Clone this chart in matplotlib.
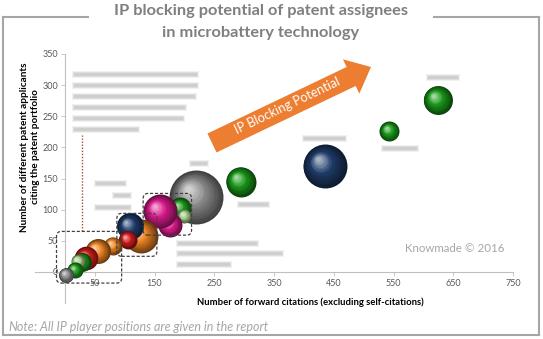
import numpy as np
import matplotlib
matplotlib.use("Agg")
import matplotlib.pyplot as plt
from matplotlib.colors import to_rgb
from matplotlib.transforms import offset_copy, IdentityTransform
from matplotlib.patches import FancyArrow, FancyBboxPatch, Rectangle
from matplotlib.lines import Line2D

plt.rcParams['font.family'] = ['Lato', 'DejaVu Sans']

## Bubble data (drawing order: back to front)
citations = [220, 435, 294, 624, 543, 193, 200, 176, 159, 127, 109, 105, 68, 80, 55, 36, 28, 22, 17, 2]
applicants = [120, 170, 145, 276, 226, 102, 90, 75, 97, 57, 73, 52, 38, 42, 33, 22, 16, 17, 3, -5]
portfolio = [729, 484, 225, 210, 100, 121, 49, 144, 289, 289, 182, 81, 36, 81, 156, 140, 90, 49, 64, 56]
bubble_colors = ['gray', 'navy', 'green', 'green', 'green', 'green', 'lightgreen', 'magenta', 'magenta',
                 'orange', 'navy', 'red', 'navy', 'orange', 'orange', 'red', 'green', 'lightgreen',
                 'green', 'gray']

x_ticks = [50, 150, 250, 350, 450, 550, 650, 750]
y_ticks = [0, 50, 100, 150, 200, 250, 300, 350]

palette = {'gray': '#8c8c8c', 'navy': '#1f3d6b', 'green': '#1b9a1b', 'lightgreen': '#a9d08e',
           'magenta': '#dc1a8c', 'orange': '#ee8424', 'red': '#d81c1c'}

W, H = 543, 339
fig = plt.figure(figsize=(W / 100, H / 100), dpi=100)
ax = fig.add_axes([35 / W, 1 - 303 / H, (513 - 35) / W, (303 - 54) / H])
ax.set_xlim(-50, 750)
ax.set_ylim(-50, 350)

for s in ['top', 'right']:
    ax.spines[s].set_visible(False)
for s in ['left', 'bottom']:
    ax.spines[s].set_position(('data', 0))
    ax.spines[s].set_color('#bfbfbf')
    ax.spines[s].set_linewidth(0.8)
ax.set_xticks(x_ticks)
ax.set_yticks(y_ticks)
ax.tick_params(length=3, width=0.6, color='#bfbfbf', labelsize=6.5, labelcolor='#595959', pad=2)


def sphere(x, y, s, color, z):
    r = np.sqrt(s) / 2
    base = np.array(to_rgb(color))
    n = 16
    for k in range(n):
        t = k / (n - 1)
        f = 1 - 0.88 * t
        c = base * (0.45 + 0.55 * min(1, t * 1.7))
        c = c + (1 - c) * max(0, (t - 0.55) / 0.45) * 0.6
        off = r * 0.3 * t
        tr = offset_copy(ax.transData, fig=fig, x=-off, y=off, units='points')
        ax.scatter([x], [y], s=(2 * r * f) ** 2, color=np.clip(c, 0, 1), lw=0,
                   transform=tr, zorder=z, clip_on=False)


for i in range(len(citations)):
    sphere(citations[i], applicants[i], portfolio[i] * 2.07, palette[bubble_colors[i]], 3 + i * 0.01)

## dashed boxes around clusters
for (x0, y0, x1, y1) in [(-14, -18, 95, 65), (87, 25, 154, 94), (131, 59, 212, 126)]:
    ax.add_patch(FancyBboxPatch((x0, y0), x1 - x0, y1 - y0, boxstyle='round,pad=0,rounding_size=8',
                                fill=False, ec='#404040', lw=0.9, ls=(0, (2.5, 1.5)), zorder=5))
ax.plot([28, 28], [65, 220], color='#a0522d', lw=1.0, ls=(0, (1, 1.2)), zorder=2)

## blurred company labels (unreadable in source)
pix = IdentityTransform()
blur = [(73, 74, 124), (73, 85, 124), (73, 96, 122), (73, 107, 112), (73, 118, 110), (73, 129, 65),
        (427, 77, 31), (382, 148, 35), (303, 138, 42), (238, 204, 30), (190, 163, 17),
        (95, 183, 30), (113, 195, 17), (95, 207, 35),
        (177, 243, 80), (177, 253, 105), (177, 264, 53)]
for (bx, by, bw) in blur:
    for grow, a in [(1.5, 0.2), (0.5, 0.35), (-0.5, 0.45)]:
        fig.patches.append(Rectangle((bx - grow, H - by - 2 - grow), bw + 2 * grow, 4 + 2 * grow,
                                     transform=pix, fc='#bdbdbd', ec='none', alpha=a))

## arrow
tail = (212, 143)
tip = (371, 67)
fig.patches.append(FancyArrow(tail[0], H - tail[1], tip[0] - tail[0], tail[1] - tip[1], width=21,
                              head_width=38, head_length=22, length_includes_head=True,
                              transform=pix, color='#ed7d31', lw=0))
ang = np.degrees(np.arctan2(tail[1] - tip[1], tip[0] - tail[0]))
fig.text(287 / W, 1 - 106 / H, 'IP Blocking Potential', rotation=ang, rotation_mode='anchor',
         ha='center', va='center', color='white', fontsize=9.2)

## frame and titles
fc = '#a6a6a6'
for (xs, ys) in [([3, 3], [17, 335]), ([3, 539], [335, 335]), ([539, 539], [17, 335]),
                 ([3, 88], [17, 17]), ([434, 539], [17, 17])]:
    fig.add_artist(Line2D([x / W for x in xs], [1 - y / H for y in ys], color=fc, lw=1.5))

fig.text(261 / W, 1 - 11 / H, 'IP blocking potential of patent assignees', ha='center', va='center',
         fontsize=11.8, fontweight='bold', color='#7f7f7f')
fig.text(261 / W, 1 - 33 / H, 'in microbattery technology', ha='center', va='center',
         fontsize=11.8, fontweight='bold', color='#7f7f7f')

fig.text(310 / W, 1 - 302 / H, 'Number of forward citations (excluding self-citations)', ha='center',
         va='center', fontsize=6.8, fontweight='bold', color='black')
fig.text(30 / W, 1 - 147 / H, 'Number of different patent applicants\nciting the patent portfolio',
         ha='center', va='center', rotation=90, fontsize=7.2, fontweight='bold', color='black',
         linespacing=1.2)
fig.text(455 / W, 1 - 248 / H, 'Knowmade \u00a9 2016', ha='center', va='center', fontsize=8.3, color=fc)

note = fig.text(8 / W, 1 - 327 / H, 'Note', ha='left', va='center', fontsize=9, style='italic', color=fc)
fig.canvas.draw()
bb = note.get_window_extent()
fig.text(bb.x1 / W, 1 - 327 / H, ': All IP player positions are given in the report', ha='left',
         va='center', fontsize=9, style='italic', color=fc)
fig.add_artist(Line2D([bb.x0 / W, bb.x1 / W], [(bb.y0 - 0.5) / H] * 2, color=fc, lw=0.8))

plt.savefig("out.png", dpi=100)
